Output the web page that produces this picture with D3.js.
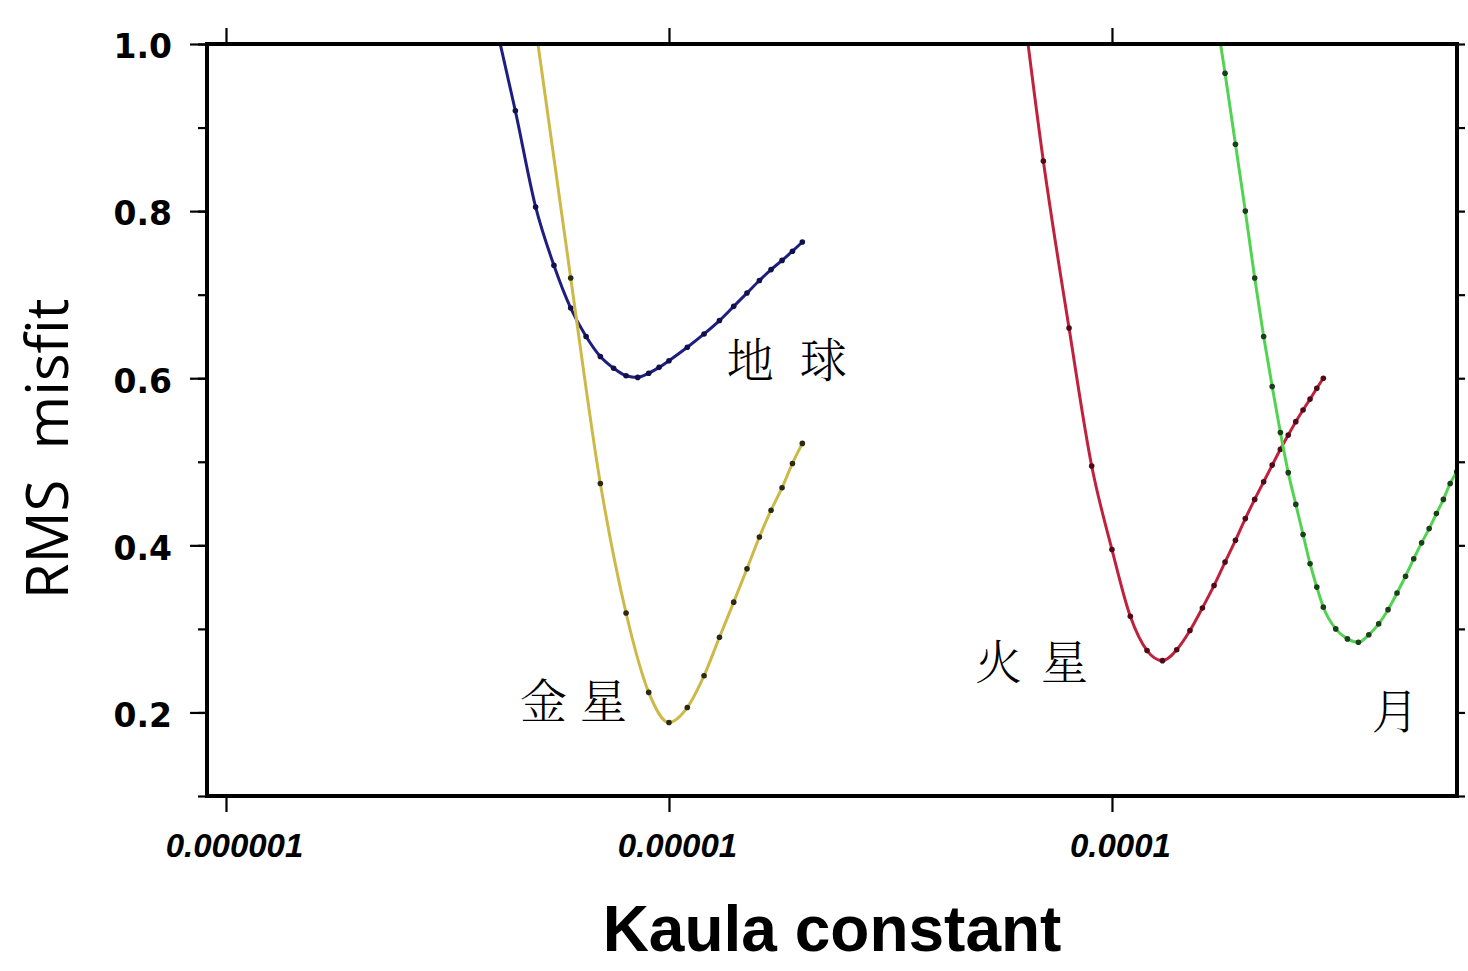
<!DOCTYPE html>
<html>
<head>
<meta charset="utf-8">
<script src="https://cdn.jsdelivr.net/npm/d3@7"></script>
<style>
  body { margin: 0; background: #fff; }
</style>
</head>
<body>
<div id="my_dataviz"></div>
<script>

// set the dimensions and margins of the graph
var width = 1468,
    height = 971,
    margin = {top: 44, right: 11, bottom: 175, left: 207}

// kaula constant values (x) and rms misfit (y)
var earthK = [0.40e-5, 0.45e-5, 0.50e-5, 0.55e-5, 0.60e-5, 0.65e-5, 0.70e-5, 0.75e-5, 0.80e-5, 0.85e-5, 0.90e-5, 0.95e-5,
              1.0e-5, 1.1e-5, 1.2e-5, 1.3e-5, 1.4e-5, 1.5e-5, 1.6e-5, 1.7e-5, 1.8e-5, 1.9e-5, 2.0e-5]
var earthRms = [1.04, 0.92, 0.805, 0.735, 0.684, 0.65, 0.626, 0.612, 0.603, 0.601, 0.606, 0.613,
                0.621, 0.637, 0.653, 0.669, 0.686, 0.702, 0.717, 0.730, 0.741, 0.752, 0.763]

var venusK = [0.5e-5, 0.6e-5, 0.7e-5, 0.8e-5, 0.9e-5, 1.0e-5, 1.1e-5, 1.2e-5, 1.3e-5, 1.4e-5, 1.5e-5, 1.6e-5,
              1.7e-5, 1.8e-5, 1.9e-5, 2.0e-5]
var venusRms = [1.02, 0.72, 0.474, 0.319, 0.224, 0.188, 0.206, 0.244, 0.290, 0.332, 0.372, 0.410,
                0.442, 0.469, 0.498, 0.522]

var marsK = [0.6e-4, 0.7e-4, 0.8e-4, 0.9e-4, 1.0e-4, 1.1e-4, 1.2e-4, 1.3e-4, 1.4e-4, 1.5e-4, 1.6e-4, 1.7e-4,
             1.8e-4, 1.9e-4, 2.0e-4, 2.1e-4, 2.2e-4, 2.3e-4, 2.4e-4, 2.5e-4, 2.6e-4, 2.7e-4, 2.8e-4, 2.9e-4, 3.0e-4]
var marsRms = [1.14, 0.86, 0.66, 0.495, 0.395, 0.315, 0.274, 0.262, 0.275, 0.298, 0.325, 0.352,
               0.380, 0.406, 0.432, 0.455, 0.476, 0.496, 0.515, 0.532, 0.548, 0.562, 0.575, 0.588, 0.600]

var moonK = [1.7e-4, 1.8e-4, 1.9e-4, 2.0e-4, 2.1e-4, 2.2e-4, 2.3e-4, 2.4e-4, 2.5e-4, 2.6e-4, 2.7e-4, 2.8e-4,
             2.9e-4, 3.0e-4, 3.2e-4, 3.4e-4, 3.6e-4, 3.8e-4, 4.0e-4, 4.2e-4, 4.4e-4, 4.6e-4, 4.8e-4, 5.0e-4,
             5.2e-4, 5.4e-4, 5.6e-4, 5.8e-4, 6.0e-4, 6.2e-4]
var moonRms = [1.05, 0.965, 0.88, 0.80, 0.72, 0.65, 0.59, 0.535, 0.487, 0.449, 0.413, 0.378,
               0.350, 0.326, 0.300, 0.288, 0.284, 0.293, 0.306, 0.323, 0.343, 0.363, 0.384, 0.403,
               0.420, 0.438, 0.455, 0.474, 0.488, 0.502]

// tick labels
var xTicks = [1e-6, 1e-5, 1e-4]
var xTickLabels = ["0.000001", "0.00001", "0.0001"]
var yTicks = [0.2, 0.4, 0.6, 0.8, 1.0]
var yTickLabels = ["0.2", "0.4", "0.6", "0.8", "1.0"]
var yMinorTicks = [0.1, 0.2, 0.3, 0.4, 0.5, 0.6, 0.7, 0.8, 0.9, 1.0]

// curve names, label text and colours
var names = ["earth", "venus", "mars", "moon"]
var labels = ["地球", "金星", "火星", "月"]
var lineColors = ["#1e1e82", "#cdb948", "#c0213c", "#52d452"]
var dotColors = ["#10104a", "#2a2a14", "#4e0a16", "#1c3e1c"]

var series = [
  {name: names[0], k: earthK, rms: earthRms},
  {name: names[1], k: venusK, rms: venusRms},
  {name: names[2], k: marsK, rms: marsRms},
  {name: names[3], k: moonK, rms: moonRms}
]

var innerW = width - margin.left - margin.right
var innerH = height - margin.top - margin.bottom

var svg = d3.select("#my_dataviz")
  .append("svg")
    .attr("width", width)
    .attr("height", height)

var g = svg.append("g")
    .attr("transform", "translate(" + margin.left + "," + margin.top + ")")

// log x scale, linear y scale
var x = d3.scaleLog()
  .domain([9.06e-7, 6.01e-4])
  .range([0, innerW])

var y = d3.scaleLinear()
  .domain([0.1, 1.0])
  .range([innerH, 0])

svg.append("defs").append("clipPath")
    .attr("id", "plotclip")
  .append("rect")
    .attr("width", innerW)
    .attr("height", innerH)

// axes: ticks only, the frame is drawn separately
function styleAxis(sel) {
  sel.select(".domain").remove()
  sel.selectAll(".tick line").attr("stroke", "#000").attr("stroke-width", 2.2)
}

g.append("g")
    .call(d3.axisLeft(y).tickValues(yMinorTicks).tickSize(9).tickFormat(""))
    .call(styleAxis)

g.append("g")
    .call(d3.axisLeft(y).tickValues(yTicks).tickSize(17).tickPadding(18)
      .tickFormat(function(d, i) { return yTickLabels[i] }))
    .call(styleAxis)
    .call(function(s) {
      s.selectAll("text")
        .attr("dy", "0.42em")
        .style("font-family", "'DejaVu Sans', sans-serif")
        .style("font-weight", "bold")
        .style("font-size", "33px")
        .attr("fill", "#000")
    })

g.append("g")
    .attr("transform", "translate(" + innerW + ",0)")
    .call(d3.axisRight(y).tickValues(yMinorTicks).tickSize(8).tickFormat(""))
    .call(styleAxis)

g.append("g")
    .call(d3.axisTop(x).tickValues(xTicks).tickSize(16).tickFormat(""))
    .call(styleAxis)

g.append("g")
    .attr("transform", "translate(0," + innerH + ")")
    .call(d3.axisBottom(x).tickValues(xTicks).tickSize(16).tickPadding(22)
      .tickFormat(function(d, i) { return xTickLabels[i] }))
    .call(styleAxis)
    .call(function(s) {
      s.selectAll("text")
        .attr("dy", "0.71em")
        .attr("dx", "8")
        .style("font-family", "'Liberation Sans', Arial, sans-serif")
        .style("font-weight", "bold")
        .style("font-style", "italic")
        .style("font-size", "33px")
        .attr("fill", "#000")
    })

// the curves
var line = d3.line()
  .x(function(d) { return x(d[0]) })
  .y(function(d) { return y(d[1]) })
  .curve(d3.curveMonotoneX)

var plot = g.append("g").attr("clip-path", "url(#plotclip)")

series.forEach(function(s, i) {
  var pts = d3.zip(s.k, s.rms)
  plot.append("path")
    .datum(pts)
    .attr("d", line)
    .attr("fill", "none")
    .attr("stroke", lineColors[i])
    .attr("stroke-width", 3)
    .attr("stroke-linejoin", "round")
  plot.selectAll(".dot-" + s.name)
    .data(pts)
    .enter()
    .append("circle")
      .attr("class", "dot-" + s.name)
      .attr("cx", function(d) { return x(d[0]) })
      .attr("cy", function(d) { return y(d[1]) })
      .attr("r", 2.8)
      .attr("fill", dotColors[i])
})

// frame
g.append("rect")
    .attr("width", innerW)
    .attr("height", innerH)
    .attr("fill", "none")
    .attr("stroke", "#000")
    .attr("stroke-width", 4)

// planet labels (position in data coordinates, next to each curve)
var labelK = [1.35e-5, 4.61e-6, 4.91e-5, 3.86e-4]
var labelRms = [0.602, 0.193, 0.240, 0.181]
var labelSpacing = [26, 13, 19, 0]

labels.forEach(function(t, i) {
  g.append("text")
    .attr("x", x(labelK[i]))
    .attr("y", y(labelRms[i]))
    .attr("text-anchor", "start")
    .style("font-family", "'Noto Serif CJK SC', 'Noto Sans CJK SC', serif")
    .style("font-size", "47px")
    .style("font-weight", "300")
    .style("letter-spacing", labelSpacing[i] + "px")
    .attr("fill", "#000")
    .text(t)
})

// axis titles
svg.append("text")
    .attr("x", 832)
    .attr("y", 951)
    .attr("text-anchor", "middle")
    .style("font-family", "'Liberation Sans', Arial, sans-serif")
    .style("font-weight", "bold")
    .style("font-size", "64px")
    .attr("fill", "#000")
    .text("Kaula constant")

svg.append("text")
    .attr("transform", "translate(68,449) rotate(-90)")
    .attr("text-anchor", "middle")
    .style("font-family", "'Open Sans', sans-serif")
    .style("font-size", "58px")
    .style("white-space", "pre")
    .attr("fill", "#000")
    .text("RMS  misfit")

</script>
</body>
</html>
